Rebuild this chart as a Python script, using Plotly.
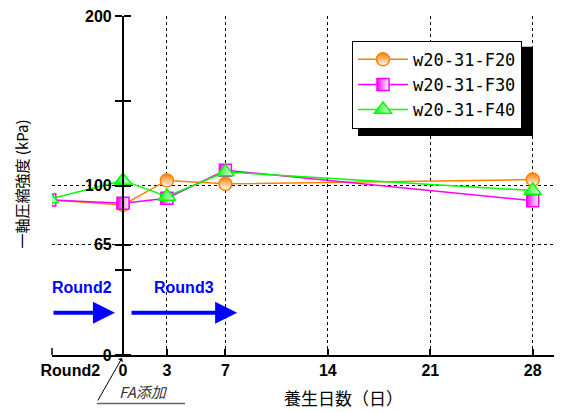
import plotly.graph_objects as go

# ---- data ----
days = [-5, 0, 3, 7, 28]
f20 = [91.5, 88.5, 103, 101, 103.5]
f30 = [91.5, 89.5, 92.5, 109, 91]
f40 = [92, 103, 93.5, 108, 97]
series_names = ["w20-31-F20", "w20-31-F30", "w20-31-F40"]
x_tickvals = [-3.6, 0, 3, 7, 14, 21, 28]
x_ticktext = ["Round2", "0", "3", "7", "14", "21", "28"]
x_gridvals = [3, 7, 14, 21, 28]
y_tickvals = [0, 65, 100, 200]
y_minor = [50, 150]

XR = [-4.85, 30.0]
YR = [0, 200]

# page body has an 8px offset; figure coordinates are compensated for it
PW, PH = 510, 342      # plot area in px
L0, T0 = 52, 13        # plot area top-left in screen px
def px(x):
    return (x - L0) / PW
def py(y):
    return (T0 + PH - y) / PH

colors = ["#FF8000", "#FF00FF", "#00FF00"]
symbols = ["circle", "square", "triangle-up"]
grads = ["vertical", "horizontal", "horizontal"]
sizes = [13, 12, 15]

fig = go.Figure()
for name, ys, c, s, g, sz in zip(series_names, [f20, f30, f40], colors, symbols, grads, sizes):
    fig.add_trace(go.Scatter(
        x=days, y=ys, name=name, mode="lines+markers",
        line=dict(color=c, width=1.5),
        marker=dict(symbol=s, size=sz, color=c, line=dict(color=c, width=1.5),
                    gradient=dict(type=g, color="white")),
    ))
# dummy trace for crossing tick axis
fig.add_trace(go.Scatter(x=[None], y=[None], yaxis="y2", showlegend=False, hoverinfo="skip"))

pos = (0 - XR[0]) / (XR[1] - XR[0])
tickfont = dict(family="Liberation Sans", size=16, color="black", weight="bold")

fig.update_layout(
    width=554, height=404,
    margin=dict(l=L0 - 8, r=554 - (L0 - 8) - PW, t=T0 - 8, b=404 - (T0 - 8) - PH),
    paper_bgcolor="white", plot_bgcolor="white",
    showlegend=True,
    legend=dict(x=px(352), y=py(38), xanchor="left", yanchor="top",
                bgcolor="white", bordercolor="black", borderwidth=1,
                font=dict(family="DejaVu Sans Mono", size=17, color="black"),
                tracegroupgap=0, itemwidth=50),
    xaxis=dict(range=XR, showgrid=False, zeroline=False,
               showline=True, linecolor="black", linewidth=1.5,
               tickmode="array", tickvals=x_tickvals, ticktext=x_ticktext,
               ticks="", tickfont=dict(family="Liberation Sans", size=16, color="black", weight="bold"),
               minor=dict(tickmode="array", tickvals=x_gridvals, showgrid=True,
                          gridcolor="black", griddash="dot", gridwidth=1,
                          ticks="inside", ticklen=6, tickwidth=1.5, tickcolor="black"),
               ),
    yaxis=dict(range=YR, anchor="free", position=pos, side="left",
               showline=True, linecolor="black", linewidth=2, zeroline=False,
               tickmode="array", tickvals=y_tickvals, ticks="outside", ticklen=7,
               tickwidth=1.5, tickcolor="black", ticklabeloverflow="allow",
               showgrid=True, gridcolor="black", griddash="dot", gridwidth=1,
               tickfont=tickfont,
               minor=dict(tickmode="array", tickvals=y_minor, ticks="outside", ticklen=7,
                          tickwidth=1.5, tickcolor="black", showgrid=False)),
    yaxis2=dict(range=YR, overlaying="y", anchor="free", position=pos, side="right",
                showline=False, zeroline=False, showgrid=False, showticklabels=False,
                tickmode="array", tickvals=y_tickvals + y_minor, ticks="outside",
                ticklen=7, tickwidth=1.5, tickcolor="black"),
)

# legend shadow
fig.add_shape(type="rect", xref="paper", yref="paper",
              x0=px(358), x1=px(533), y0=py(134), y1=py(44),
              fillcolor="black", line=dict(width=0), layer="above")

# small tick at left end of x axis
fig.add_shape(type="line", xref="paper", yref="paper", x0=0, x1=0,
              y0=0, y1=7 / PH, line=dict(color="black", width=1.5))

# Round labels and arrows
for txt, tx, x0, x1 in [("Round2", -2.8, -4.85, -0.55), ("Round3", 4.2, 0.48, 7.8)]:
    fig.add_annotation(x=tx, y=39.8, xref="x", yref="y", text="<b>" + txt + "</b>",
                       xanchor="center", yanchor="middle",
                       showarrow=False, font=dict(family="Liberation Sans", size=16, color="#0000FF"))
    fig.add_annotation(x=x1, y=25, ax=x0, ay=25, xref="x", yref="y", axref="x", ayref="y",
                       text="", showarrow=True, arrowhead=2, arrowsize=1.1, arrowwidth=4,
                       arrowcolor="#0000FF", standoff=0)

# y title
fig.add_annotation(x=px(22), y=py(183), xref="paper", yref="paper",
                   xanchor="center", yanchor="middle",
                   text="一軸圧縮強度 (kPa)", textangle=-90, showarrow=False,
                   font=dict(family="Noto Sans CJK JP", size=15, color="black"))
# x title
fig.add_annotation(x=px(343), y=py(398), xref="paper", yref="paper",
                   xanchor="center", yanchor="middle",
                   text="養生日数（日）", showarrow=False,
                   font=dict(family="Noto Sans CJK JP", size=17, color="black"))
# FA添加
fig.add_annotation(x=px(143), y=py(392), xref="paper", yref="paper",
                   xanchor="center", yanchor="middle",
                   text="<i>FA添加</i>", showarrow=False,
                   font=dict(family="Noto Sans CJK JP", size=15, color="#333333"))
fig.add_annotation(x=px(122), y=py(358), xref="paper", yref="paper",
                   ax=-25, ay=44, text="", showarrow=True, arrowhead=1, arrowsize=1,
                   arrowwidth=1, arrowcolor="black", standoff=0)
fig.add_shape(type="line", xref="paper", yref="paper",
              x0=px(97), x1=px(185), y0=py(404), y1=py(404),
              line=dict(color="#666666", width=1.5))

fig.write_html("out.html")
